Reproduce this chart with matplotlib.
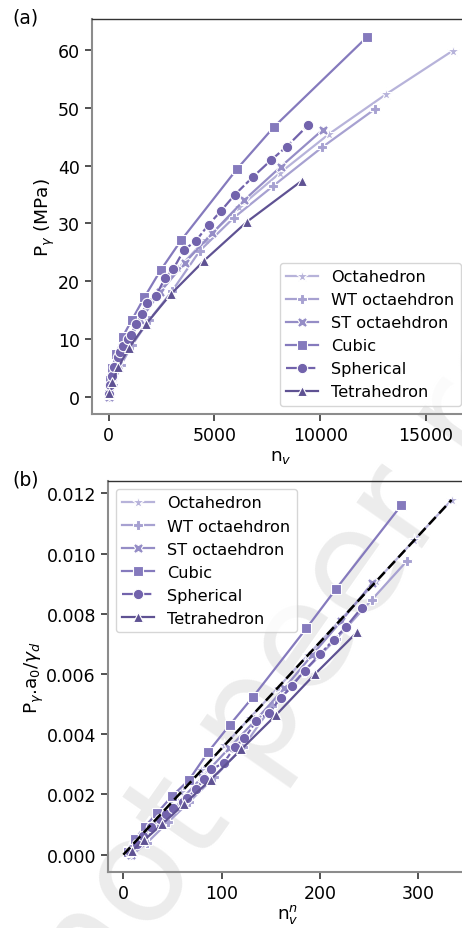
import matplotlib
matplotlib.use("Agg")

import matplotlib.pyplot as plt

# ── Panel (a) data: n_v vs P_gamma (MPa) ───────────────────────────
OCT_NV = [19, 85, 231, 489, 891, 1469, 2255, 3281, 4579, 6181, 8119, 10425, 13131, 16269]
OCT_P = [0.2, 1.8, 3.9, 6.6, 9.8, 13.4, 17.6, 22.2, 27.2, 32.8, 38.8, 45.5, 52.4, 59.9]

WT_NV = [40, 200, 580, 1100, 1900, 3000, 4317, 5924, 7783, 10100, 12590]
WT_P = [0.0, 2.0, 5.5, 8.9, 13.2, 18.3, 25.3, 31.0, 36.5, 43.2, 49.8]

ST_NV = [30, 150, 420, 850, 1500, 2450, 3600, 4900, 6397, 8132, 10118]
ST_P = [0.0, 2.3, 5.4, 9.0, 13.3, 18.2, 23.2, 28.3, 34.0, 39.8, 46.2]

CUB_NV = [14, 63, 172, 365, 666, 1099, 1688, 2457, 3430, 6084, 7813, 12195]
CUB_P = [0.5, 2.8, 5.0, 7.4, 10.4, 13.3, 17.2, 21.9, 27.1, 39.5, 46.7, 62.2]

SPH_NV = [25, 80, 150, 260, 425, 534, 690, 927, 1054, 1291, 1560, 1797, 2236, 2662,
          3054, 3560, 4128, 4728, 5296, 5972, 6837, 7660, 8416, 9428]
SPH_P = [0.5, 2.0, 3.5, 5.2, 6.8, 7.7, 8.8, 10.0, 10.7, 12.5, 14.3, 16.2, 17.5, 20.5,
         22.1, 25.4, 27.0, 29.8, 32.1, 35.0, 38.1, 40.9, 43.3, 47.0]

TET_NV = [35, 165, 455, 969, 1771, 2925, 4495, 6545, 9139]
TET_P = [0.6, 2.5, 5.1, 8.5, 12.6, 17.7, 23.5, 30.3, 37.4]

# ── Panel (b) data: n_v^n vs P_gamma.a0/gamma_d ─────────────────────
OCT_NVN = [5.85, 14.4, 26.2, 41.1, 58.9, 79.5, 102.8, 128.7, 157.2, 188.3, 221.6, 257.6, 295.9, 334.1]
OCT_PN = [0.00021, 0.00051, 0.00092, 0.00145, 0.00208, 0.0028, 0.00363, 0.00454, 0.00554,
          0.00664, 0.00782, 0.00909, 0.01044, 0.01178]

WT_NVN = [9.15, 24.0, 45.5, 66.8, 92.7, 122.0, 151.7, 183.5, 216.2, 252.7, 288.5]
WT_PN = [0.0, 0.00039, 0.00108, 0.00174, 0.00258, 0.00358, 0.00495, 0.00607, 0.00715, 0.00846, 0.00975]

ST_NVN = [7.7, 20.2, 37.5, 57.2, 80.5, 108.0, 136.1, 163.7, 192.1, 221.8, 253.1]
ST_PN = [0.0, 0.00045, 0.00105, 0.00176, 0.00259, 0.00355, 0.00452, 0.00552, 0.00663, 0.00776, 0.00901]

CUB_NVN = [4.87, 12.0, 21.9, 34.5, 49.4, 66.8, 86.1, 108.6, 132.2, 186.4, 216.6, 282.8]
CUB_PN = [0.0001, 0.00052, 0.00093, 0.00139, 0.00194, 0.00248, 0.0034, 0.00432, 0.00525,
          0.00752, 0.00883, 0.0116]

SPH_NVN = [6.9, 13.9, 20.2, 28.1, 37.8, 43.3, 50.5, 60.3, 65.1, 73.6, 82.4, 89.7, 102.2, 113.5,
           123.3, 135.2, 147.8, 160.3, 171.6, 184.4, 200.0, 214.0, 226.5, 242.5]
SPH_PN = [0.00009, 0.00035, 0.00061, 0.00091, 0.00119, 0.00134, 0.00154, 0.00175, 0.00187,
          0.00218, 0.0025, 0.00283, 0.00305, 0.00358, 0.00386, 0.00443, 0.00471, 0.0052,
          0.0056, 0.00611, 0.00665, 0.00714, 0.00756, 0.0082]

TET_NVN = [8.44, 21.4, 39.3, 61.9, 88.9, 120.1, 155.5, 194.8, 237.9]
TET_PN = [0.00012, 0.00049, 0.00101, 0.00168, 0.00249, 0.0035, 0.00464, 0.00599, 0.00739]

FIT_X = [0, 334]
FIT_Y = [0.0, 0.01178]

# ── Series styling ─────────────────────────────────────────────────
SERIES = [
    ("Octahedron",    "*", 9.5, "#b7b3da", "-",  OCT_NV, OCT_P, OCT_NVN, OCT_PN),
    ("WT octaehdron", "P", 7.5, "#a7a1d1", "-",  WT_NV, WT_P, WT_NVN, WT_PN),
    ("ST octaehdron", "X", 7.5, "#958dc6", "-",  ST_NV, ST_P, ST_NVN, ST_PN),
    ("Cubic",         "s", 7.0, "#857abd", "-",  CUB_NV, CUB_P, CUB_NVN, CUB_PN),
    ("Spherical",     "o", 7.5, "#7263ac", (0, (6, 1.2)), SPH_NV, SPH_P, SPH_NVN, SPH_PN),
    ("Tetrahedron",   "^", 7.5, "#5f5293", "-",  TET_NV, TET_P, TET_NVN, TET_PN),
]

fig = plt.figure(figsize=(4.62, 9.29), dpi=100)
ax_a = fig.add_axes([0.1991, 0.5533, 0.8159, 0.4252])
ax_b = fig.add_axes([0.2331, 0.0606, 0.7819, 0.4206])

# faint preprint watermark behind both panels
fig.text(0.574, 0.244, "Preprint not peer reviewed", rotation=55, rotation_mode="anchor",
         fontsize=105, color="#ececec", ha="center", va="center", zorder=-5)

for label, mk, ms, color, ls, nv, p, nvn, pn in SERIES:
    kw = dict(color=color, linestyle=ls, linewidth=1.6, marker=mk, markersize=ms,
              markeredgecolor="white", markeredgewidth=0.8, label=label)
    ax_a.plot(nv, p, **kw)
    ax_b.plot(nvn, pn, **kw)

ax_b.plot(FIT_X, FIT_Y, color="black", linestyle=(0, (4, 2)), linewidth=1.8, zorder=5)

ax_a.set_xlim(-790, 17036)
ax_a.set_ylim(-3.0, 65.4)
ax_a.set_xticks([0, 5000, 10000, 15000])
ax_a.set_yticks([0, 10, 20, 30, 40, 50, 60])
ax_a.set_xlabel(r"n$_v$", fontsize=13.3, labelpad=2)
ax_a.set_ylabel(r"P$_\gamma$ (MPa)", fontsize=13.3, labelpad=1)

ax_b.set_xlim(-15.9, 351.7)
ax_b.set_ylim(-0.000565, 0.01241)
ax_b.set_xticks([0, 100, 200, 300])
ax_b.set_yticks([0.0, 0.002, 0.004, 0.006, 0.008, 0.010, 0.012])
ax_b.set_yticklabels(["0.000", "0.002", "0.004", "0.006", "0.008", "0.010", "0.012"])
ax_b.set_xlabel(r"n$_v^n$", fontsize=13.3, labelpad=0)
ax_b.set_ylabel(r"P$_\gamma$.a$_0$/$\gamma_d$", fontsize=13.3, labelpad=0)

for ax in (ax_a, ax_b):
    ax.set_facecolor("none")
    ax.tick_params(labelsize=12.5, length=5, width=1.2, color="#333333")
    for side in ("left", "bottom"):
        ax.spines[side].set_color("#8c8c8c")
        ax.spines[side].set_linewidth(1.5)
    ax.spines["top"].set_color("#333333")
    ax.spines["top"].set_linewidth(1.0)
    ax.spines["right"].set_visible(False)

ax_a.legend(loc="lower right", fontsize=11.6, handlelength=2.0)
ax_b.legend(loc="upper left", fontsize=11.6, handlelength=2.0)

fig.text(12 / 462, 1 - 18 / 929, "(a)", fontsize=13.5, va="center", ha="left")
fig.text(12 / 462, 1 - 480 / 929, "(b)", fontsize=13.5, va="center", ha="left")

fig.savefig("out.png", dpi=100)
